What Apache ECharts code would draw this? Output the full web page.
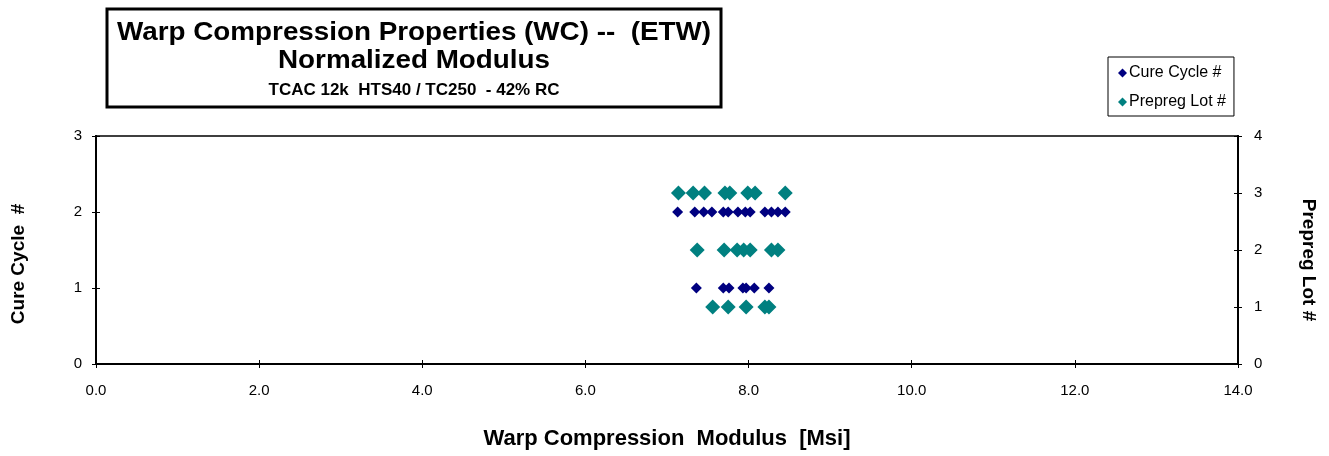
<!DOCTYPE html>
<html><head><meta charset="utf-8">
<script src="https://cdn.jsdelivr.net/npm/echarts@6/dist/echarts.min.js"></script>
<style>html,body{margin:0;padding:0;background:#fff}#c{width:1329px;height:456px}</style>
</head><body><div id="c"></div>
<script>
// Data
const cureModulus = [7.13,7.34,7.45,7.55,7.69,7.75,7.87,7.96,8.02,8.20,8.28,8.36,8.45,
                     7.36,7.69,7.76,7.93,7.97,8.07,8.25];
const cureCycle   = [2,2,2,2,2,2,2,2,2,2,2,2,2,
                     1,1,1,1,1,1,1];
const lotModulus  = [7.14,7.32,7.46,7.71,7.77,7.99,8.08,8.45,
                     7.37,7.70,7.86,7.94,8.02,8.28,8.36,
                     7.56,7.75,7.97,8.20,8.25];
const prepregLot  = [3,3,3,3,3,3,3,3,
                     2,2,2,2,2,2,2,
                     1,1,1,1,1];
const xTicks = {min:0, max:14, interval:2};
const leftTicks = {min:0, max:3, interval:1};
const rightTicks = {min:0, max:4, interval:1};

const FONT = '"Liberation Sans", Arial, sans-serif';
const chart = echarts.init(document.getElementById('c'), null, {renderer:'canvas'});

const lineStyle = {color:'#000', width:2};
function xAx(pos, inside, show, tick){
  return {type:'value', min:xTicks.min, max:xTicks.max, interval:xTicks.interval, position:pos,
    axisLine:{show:true, onZero:false, lineStyle: pos==='top' ? {color:'#000', width:1.5} : lineStyle}, splitLine:{show:false},
    axisTick:{show:tick, inside, length:4, lineStyle:{color:'#000', width:1}},
    axisLabel:{show, margin:19, color:'#000', fontFamily:FONT, fontSize:15, formatter:v=>v.toFixed(1)},
    name: show ? 'Warp Compression  Modulus  [Msi]' : '', nameLocation:'middle', nameGap:64,
    nameTextStyle:{fontFamily:FONT, fontWeight:'bold', fontSize:22, color:'#000'}};
}
function yAx(t, pos, inside, show, name, rot, gap, margin, pad){
  return {type:'value', min:t.min, max:t.max, interval:t.interval, position:pos,
    axisLine:{show:true, onZero:false, lineStyle}, splitLine:{show:false},
    axisTick:{show:true, inside, length:4, lineStyle:{color:'#000', width:1}},
    axisLabel:{show, margin, color:'#000', fontFamily:FONT, fontSize:15},
    name: show ? name : '', nameLocation:'middle', nameGap:gap, nameRotate:rot,
    nameTextStyle:{fontFamily:FONT, fontWeight:'bold', fontSize:19, color:'#000', padding:pad}};
}

chart.setOption({
  animation:false,
  backgroundColor:'#fff',
  grid:{left:96, right:91, top:136, bottom:92},
  xAxis:[xAx('bottom',false,true,true), xAx('bottom',true,false,true), xAx('top',false,false,false)],
  yAxis:[yAx(leftTicks,'left',false,true,'Cure Cycle  #',90,68,14,[0,28,0,0]),
         yAx(rightTicks,'right',false,true,'Prepreg Lot #',-90,61,16,[0,0,0,20]),
         yAx(leftTicks,'left',true,false,'',90,0,14,0),
         yAx(rightTicks,'right',true,false,'',-90,0,16,0)],
  legend:{orient:'vertical', left:1108, top:57, padding:[8,8,6,10], itemGap:13,
    borderColor:'#000', borderWidth:1, itemWidth:9, itemHeight:9,
    textStyle:{fontFamily:FONT, fontSize:16, color:'#000', padding:[0,0,0,-3]},
    data:[{name:'Cure Cycle #', icon:'diamond'},{name:'Prepreg Lot #', icon:'diamond'}]},
  series:[
    {name:'Cure Cycle #', type:'scatter', xAxisIndex:0, yAxisIndex:0, symbol:'diamond', symbolSize:11,
     itemStyle:{color:'#000080', opacity:1}, data:cureModulus.map((x,i)=>[x,cureCycle[i]])},
    {name:'Prepreg Lot #', type:'scatter', xAxisIndex:0, yAxisIndex:1, symbol:'diamond', symbolSize:15,
     itemStyle:{color:'#008080', opacity:1}, data:lotModulus.map((x,i)=>[x,prepregLot[i]])}
  ],
  graphic:[
    {type:'rect', shape:{x:107, y:9, width:614, height:98}, style:{fill:'#fff', stroke:'#000', lineWidth:3}, z:10},
    {type:'text', x:414, y:33, scaleX:1.07, z:11, style:{text:'Warp Compression Properties (WC) --  (ETW)', fontFamily:FONT, fontWeight:'bold', fontSize:26, fill:'#000', textAlign:'center', textVerticalAlign:'middle'}},
    {type:'text', x:414, y:61, scaleX:1.07, z:11, style:{text:'Normalized Modulus', fontFamily:FONT, fontWeight:'bold', fontSize:26, fill:'#000', textAlign:'center', textVerticalAlign:'middle'}},
    {type:'text', x:414, y:90, z:11, style:{text:'TCAC 12k  HTS40 / TC250  - 42% RC', fontFamily:FONT, fontWeight:'bold', fontSize:17, fill:'#000', textAlign:'center', textVerticalAlign:'middle'}}
  ]
});
</script></body></html>
